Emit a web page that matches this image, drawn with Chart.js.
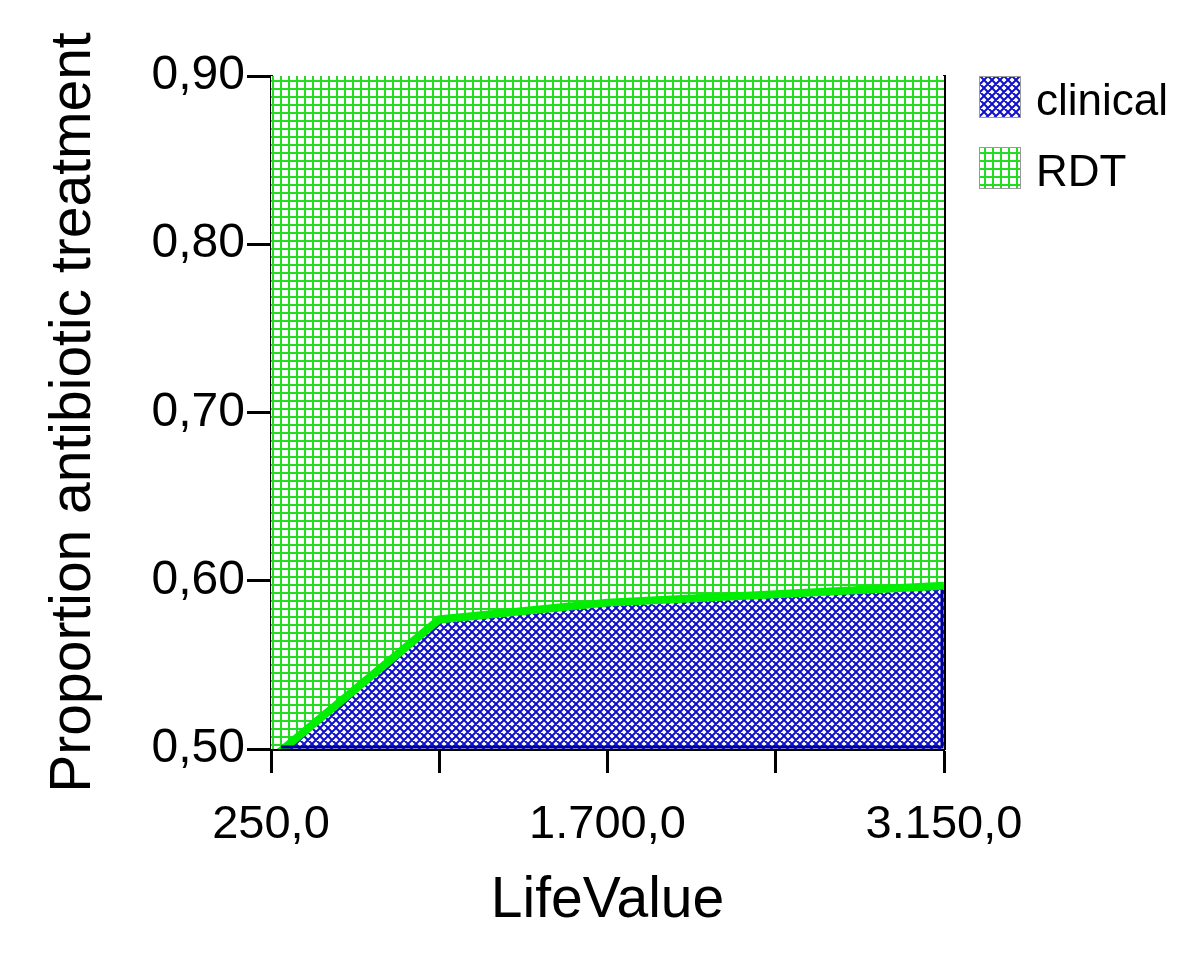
<!DOCTYPE html>
<html>
<head>
<meta charset="utf-8">
<script src="https://cdn.jsdelivr.net/npm/chart.js@4/dist/chart.umd.min.js"></script>
<style>
  html, body { margin: 0; padding: 0; background: #fff; }
  #wrap { width: 1200px; height: 975px; position: relative; }
</style>
</head>
<body>
<div id="wrap"><canvas id="chart"></canvas></div>
<script>
// Data
const lifeValues = [250, 975, 1700, 2425, 3150];
const clinicalValues = [0.494, 0.577, 0.587, 0.592, 0.597];
const rdtValues = [0.50, 0.42, 0.41, 0.41, 0.40];   // stacked on top of clinical, runs past 0.90
const xTicks = [250, 975, 1700, 2425, 3150];
const xLabelled = [250, 1700, 3150];
const yTicks = [0.5, 0.6, 0.7, 0.8, 0.9];

const FONT = "'Liberation Sans', Arial, sans-serif";

// hatch patterns
function gridPattern() {
    const c = document.createElement('canvas');
    c.width = 8; c.height = 8;
    const g = c.getContext('2d');
    g.fillStyle = '#ffffff';
    g.fillRect(0, 0, 8, 8);
    g.fillStyle = '#22dd22';
    g.fillRect(0, 0, 8, 2);
    g.fillRect(0, 0, 2, 8);
    return g.createPattern(c, 'repeat');
}

function crossPattern() {
    const c = document.createElement('canvas');
    c.width = 8; c.height = 8;
    const g = c.getContext('2d');
    g.fillStyle = '#ffffff';
    g.fillRect(0, 0, 8, 8);
    g.strokeStyle = '#1010cc';
    g.lineWidth = 2;
    g.beginPath();
    g.moveTo(-2, -2); g.lineTo(10, 10);
    g.moveTo(-2, 6); g.lineTo(2, 10);
    g.moveTo(6, -2); g.lineTo(10, 2);
    g.moveTo(-2, 10); g.lineTo(10, -2);
    g.moveTo(-2, 2); g.lineTo(2, -2);
    g.moveTo(6, 10); g.lineTo(10, 6);
    g.stroke();
    return g.createPattern(c, 'repeat');
}

function fmtNum(v, decimals) {
    const parts = v.toFixed(decimals).split('.');
    parts[0] = parts[0].replace(/\B(?=(\d{3})+(?!\d))/g, '.');
    return parts.join(',');
}

// legend drawn at the right, boxes filled with the dataset patterns
const sideLegend = {
    id: 'sideLegend',
    afterDraw(chart) {
        const c = chart.ctx;
        const left = chart.chartArea.right + 35;
        c.save();
        chart.data.datasets.forEach((ds, i) => {
            const top = chart.chartArea.top + i * 71;
            c.fillStyle = ds.backgroundColor;
            c.fillRect(left, top, 42, 42);
            c.strokeStyle = '#9a9a9a';
            c.lineWidth = 1;
            c.strokeRect(left + 0.5, top + 0.5, 41, 41);
            c.fillStyle = '#000';
            c.font = '44px ' + FONT;
            c.textBaseline = 'middle';
            c.textAlign = 'left';
            c.fillText(ds.label, left + 57, top + 27);
        });
        c.restore();
    }
};

// dark blue edge along the bottom and right of the clinical area
const clinicalEdge = {
    id: 'clinicalEdge',
    afterDatasetsDraw(chart) {
        const a = chart.chartArea;
        const meta = chart.getDatasetMeta(0);
        const last = meta.data[meta.data.length - 1];
        const c = chart.ctx;
        c.save();
        c.strokeStyle = '#0000a0';
        c.lineWidth = 3;
        c.beginPath();
        c.moveTo(a.left + 10, a.bottom - 2);
        c.lineTo(a.right - 2, a.bottom - 2);
        c.lineTo(a.right - 2, last.y + 4);
        c.stroke();
        c.restore();
    }
};

const ctx = document.getElementById('chart').getContext('2d');

new Chart(ctx, {
    type: 'line',
    data: {
        labels: lifeValues,
        datasets: [
            {
                label: 'clinical',
                data: lifeValues.map((x, i) => ({ x: x, y: clinicalValues[i] })),
                backgroundColor: crossPattern(),
                borderColor: '#00ee00',
                borderWidth: 8,
                pointRadius: 0,
                tension: 0,
                fill: 'start',
                clip: 0,
                order: 0
            },
            {
                label: 'RDT',
                data: lifeValues.map((x, i) => ({ x: x, y: rdtValues[i] })),
                backgroundColor: gridPattern(),
                borderColor: 'rgba(0,0,0,0)',
                borderWidth: 0,
                pointRadius: 0,
                tension: 0,
                fill: '-1',
                clip: 0,
                order: 1
            }
        ]
    },
    plugins: [clinicalEdge, sideLegend],
    options: {
        responsive: true,
        maintainAspectRatio: false,
        animation: false,
        layout: {
            padding: { left: 40, right: 256, top: 76, bottom: 40 }
        },
        scales: {
            x: {
                type: 'linear',
                min: 250,
                max: 3150,
                afterBuildTicks: (scale) => {
                    scale.ticks = xTicks.map(v => ({ value: v }));
                },
                afterFit: (scale) => {
                    scale.height = 975 - 749 - 40;
                },
                ticks: {
                    autoSkip: false,
                    maxRotation: 0,
                    color: '#000',
                    padding: 24,
                    font: { family: FONT, size: 47 },
                    callback: (v) => xLabelled.includes(v) ? fmtNum(v, 1) : ''
                },
                grid: {
                    drawOnChartArea: false,
                    drawTicks: true,
                    tickLength: 24,
                    tickWidth: 3,
                    tickColor: '#000'
                },
                border: { color: '#000', width: 3 },
                title: {
                    display: true,
                    text: 'LifeValue',
                    color: '#000',
                    font: { family: FONT, size: 57 },
                    padding: { top: 20, bottom: 0 }
                }
            },
            y: {
                stacked: true,
                min: 0.5,
                max: 0.9,
                afterBuildTicks: (scale) => {
                    scale.ticks = yTicks.map(v => ({ value: v }));
                },
                afterFit: (scale) => {
                    scale.width = 271 - 40;
                },
                ticks: {
                    color: '#000',
                    padding: 2,
                    font: { family: FONT, size: 48 },
                    callback: (v) => fmtNum(v, 2)
                },
                grid: {
                    drawOnChartArea: false,
                    drawTicks: true,
                    tickLength: 24,
                    tickWidth: 3,
                    tickColor: '#000'
                },
                border: { color: '#000', width: 3 },
                title: {
                    display: true,
                    text: 'Proportion antibiotic treatment',
                    color: '#000',
                    font: { family: FONT, size: 57 },
                    padding: { top: 0, bottom: 0 }
                }
            },
            yRight: {
                position: 'right',
                min: 0.5,
                max: 0.9,
                afterFit: (scale) => {
                    scale.width = 0;
                },
                ticks: { display: false },
                grid: { display: false, drawTicks: false },
                border: { color: '#000', width: 3 }
            }
        },
        plugins: {
            legend: { display: false },
            tooltip: { enabled: false }
        }
    }
});
</script>
</body>
</html>
